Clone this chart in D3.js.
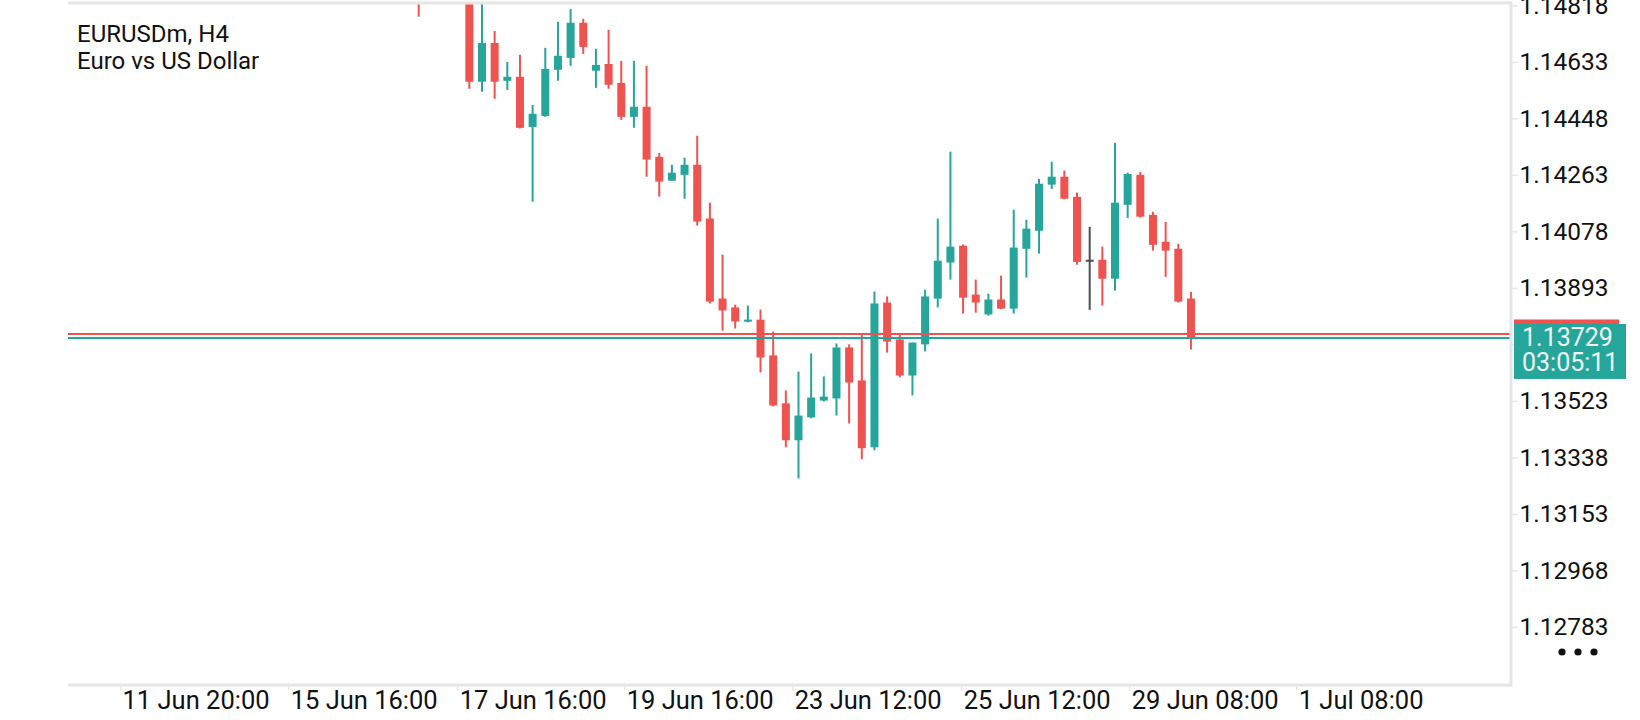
<!DOCTYPE html>
<html>
<head>
<meta charset="utf-8">
<script src="https://cdn.jsdelivr.net/npm/d3@7"></script>
<style>
  html, body { margin: 0; padding: 0; background: #fff; }
  svg { display: block; font-family: Roboto, "Noto Sans", sans-serif; }
</style>
</head>
<body>
<div id="chart"></div>
<script>
// EURUSDm H4 candles (oldest first)
const opens = [1.14920, 1.14860, 1.14930, 1.14895, 1.14990, 1.14568, 1.14695, 1.14571, 1.14584, 1.14420,
  1.14456, 1.14607, 1.14646, 1.14761, 1.14604, 1.14626, 1.14564, 1.14453, 1.14486, 1.14322,
  1.14244, 1.14263, 1.14296, 1.14120, 1.13858, 1.13829, 1.13783, 1.13789, 1.13672, 1.13515,
  1.13394, 1.13469, 1.13524, 1.13531, 1.13698, 1.13590, 1.13371, 1.13845, 1.13724, 1.13606,
  1.13708, 1.13858, 1.13976, 1.14031, 1.13871, 1.13806, 1.13855, 1.13825, 1.14021, 1.14080,
  1.14231, 1.14257, 1.14191, 1.13985, 1.13985, 1.13923, 1.14165, 1.14263, 1.14132, 1.14044,
  1.14021, 1.13858];
const highs = [1.14950, 1.14960, 1.14975, 1.15010, 1.15020, 1.14845, 1.14734, 1.14633, 1.14656, 1.14492,
  1.14679, 1.14764, 1.14806, 1.14774, 1.14676, 1.14738, 1.14636, 1.14636, 1.14620, 1.14335,
  1.14296, 1.14319, 1.14391, 1.14172, 1.14002, 1.13838, 1.13835, 1.13822, 1.13750, 1.13557,
  1.13619, 1.13678, 1.13603, 1.13711, 1.13708, 1.13740, 1.13881, 1.13865, 1.13740, 1.13714,
  1.13887, 1.14120, 1.14339, 1.14035, 1.13920, 1.13874, 1.13933, 1.14149, 1.14116, 1.14250,
  1.14306, 1.14277, 1.14205, 1.14093, 1.14028, 1.14368, 1.14270, 1.14273, 1.14142, 1.14109,
  1.14037, 1.13880];
const lows = [1.14781, 1.14852, 1.14870, 1.14880, 1.14545, 1.14535, 1.14512, 1.14541, 1.14415, 1.14175,
  1.14453, 1.14571, 1.14620, 1.14659, 1.14548, 1.14545, 1.14443, 1.14417, 1.14257, 1.14192,
  1.14243, 1.14185, 1.14097, 1.13842, 1.13753, 1.13760, 1.13780, 1.13616, 1.13505, 1.13371,
  1.13269, 1.13466, 1.13521, 1.13475, 1.13449, 1.13332, 1.13361, 1.13681, 1.13600, 1.13541,
  1.13685, 1.13829, 1.13920, 1.13809, 1.13812, 1.13802, 1.13823, 1.13809, 1.13927, 1.14005,
  1.14217, 1.14183, 1.13969, 1.13821, 1.13835, 1.13884, 1.14122, 1.14123, 1.14015, 1.13929,
  1.13845, 1.13691];
const closes = [1.14860, 1.14930, 1.14895, 1.14990, 1.14568, 1.14695, 1.14568, 1.14584, 1.14417, 1.14463,
  1.14610, 1.14653, 1.14761, 1.14682, 1.14623, 1.14558, 1.14453, 1.14486, 1.14313, 1.14241,
  1.14270, 1.14296, 1.14110, 1.13848, 1.13819, 1.13783, 1.13789, 1.13665, 1.13508, 1.13394,
  1.13475, 1.13534, 1.13537, 1.13698, 1.13583, 1.13368, 1.13842, 1.13717, 1.13606, 1.13714,
  1.13865, 1.13982, 1.14028, 1.13861, 1.13845, 1.13855, 1.13825, 1.14025, 1.14087, 1.14234,
  1.14257, 1.14185, 1.13978, 1.13985, 1.13923, 1.14172, 1.14266, 1.14126, 1.14034, 1.14015,
  1.13848, 1.13729];

const bidPrice = 1.13729;
const askPrice = 1.13742;
const barTimer = '03:05:11';

const priceTicks = [1.12783, 1.12968, 1.13153, 1.13338, 1.13523, 1.13708, 1.13893, 1.14078, 1.14263, 1.14448, 1.14633, 1.14818];
// time labels, placed in bar units (0 = first candle above)
const timeTickBars = [-23.55, -10.27, 3.08, 16.27, 29.54, 42.89, 56.16, 69.35];
const timeTickLabels = ['11 Jun 20:00', '15 Jun 16:00', '17 Jun 16:00', '19 Jun 16:00', '23 Jun 12:00', '25 Jun 12:00', '29 Jun 08:00', '1 Jul 08:00'];

const symbolTitle = 'EURUSDm, H4';
const symbolName = 'Euro vs US Dollar';

const W = 1640, H = 720;
const plot = { left: 68, right: 1510, top: 2, bottom: 684 };
const up = '#26a69a', down = '#ef5350', flat = '#4e4e58', frame = '#e6e6e6', ink = '#111111';

const candles = opens.map((o, i) => ({ i, o, h: highs[i], l: lows[i], c: closes[i] }));

const x = d3.scaleLinear().domain([-27.7, 86.2]).range([plot.left, plot.right]);
const y = d3.scaleLinear().domain([1.12596, 1.14829]).range([plot.bottom, plot.top]);
const colorOf = d => d.c > d.o ? up : (d.c < d.o ? down : flat);

const svg = d3.select('#chart').append('svg').attr('width', W).attr('height', H);

svg.append('defs').append('clipPath').attr('id', 'plotclip')
  .append('rect')
  .attr('x', plot.left).attr('y', plot.top)
  .attr('width', plot.right - plot.left).attr('height', plot.bottom - plot.top);

// candles
const cg = svg.append('g').attr('clip-path', 'url(#plotclip)');
cg.selectAll('rect.wick')
  .data(candles)
  .join('rect')
  .attr('class', 'wick')
  .attr('x', d => x(d.i) - 1)
  .attr('width', 2)
  .attr('y', d => y(d.h))
  .attr('height', d => Math.max(1, y(d.l) - y(d.h)))
  .attr('fill', colorOf);
cg.selectAll('rect.body')
  .data(candles)
  .join('rect')
  .attr('class', 'body')
  .attr('x', d => x(d.i) - 4)
  .attr('width', 8)
  .attr('y', d => y(Math.max(d.o, d.c)))
  .attr('height', d => Math.max(2, Math.abs(y(d.o) - y(d.c))))
  .attr('fill', colorOf);

// ask / bid lines
svg.append('line')
  .attr('x1', plot.left).attr('x2', plot.right)
  .attr('y1', y(askPrice)).attr('y2', y(askPrice))
  .attr('stroke', down).attr('stroke-width', 2);
svg.append('line')
  .attr('x1', plot.left).attr('x2', plot.right)
  .attr('y1', y(bidPrice)).attr('y2', y(bidPrice))
  .attr('stroke', up).attr('stroke-width', 2);

// frame
svg.append('line').attr('x1', plot.left).attr('x2', plot.right + 1.5)
  .attr('y1', plot.top + 1).attr('y2', plot.top + 1)
  .attr('stroke', frame).attr('stroke-width', 3);
svg.append('line').attr('x1', plot.left).attr('x2', plot.right + 1.5)
  .attr('y1', plot.bottom + 1).attr('y2', plot.bottom + 1)
  .attr('stroke', frame).attr('stroke-width', 3);
svg.append('line').attr('x1', plot.right + 1).attr('x2', plot.right + 1)
  .attr('y1', plot.top - 0.5).attr('y2', plot.bottom + 2.5)
  .attr('stroke', frame).attr('stroke-width', 3);

// price axis
const yAxis = d3.axisRight(y)
  .tickValues(priceTicks)
  .tickSize(5)
  .tickPadding(2)
  .tickFormat(d3.format('.5f'));
const ya = svg.append('g')
  .attr('transform', `translate(${plot.right + 2.5},0)`)
  .call(yAxis);
ya.select('.domain').remove();
ya.selectAll('line').attr('stroke', frame).attr('stroke-width', 1.5);
ya.selectAll('text')
  .attr('fill', ink)
  .style('font-size', '24.5px')
  .style('font-family', 'Roboto');

// time axis
const xa = svg.append('g').attr('transform', `translate(0,${plot.bottom + 2.5})`);
xa.selectAll('line')
  .data(timeTickBars)
  .join('line')
  .attr('x1', d => x(d)).attr('x2', d => x(d))
  .attr('y1', 0).attr('y2', 4)
  .attr('stroke', frame).attr('stroke-width', 1.5);
xa.selectAll('text')
  .data(timeTickBars)
  .join('text')
  .attr('x', d => x(d) + 2)
  .attr('y', 22.5)
  .attr('fill', ink)
  .style('font-size', '25.5px')
  .text((d, i) => timeTickLabels[i]);

// ask tag (mostly hidden) and bid tag with bar timer
svg.append('rect')
  .attr('x', plot.right + 4).attr('y', y(askPrice) - 14.5)
  .attr('width', 105).attr('height', 29)
  .attr('fill', down);
const bidTag = svg.append('g').attr('transform', `translate(${plot.right + 4},${y(bidPrice) - 14})`);
bidTag.append('rect')
  .attr('width', 112).attr('height', 55)
  .attr('fill', up);
bidTag.append('text')
  .attr('x', 8).attr('y', 22.5)
  .attr('fill', '#eef8f7')
  .style('font-size', '25px')
  .text(d3.format('.5f')(bidPrice));
bidTag.append('text')
  .attr('x', 8).attr('y', 47.5)
  .attr('fill', '#eef8f7')
  .style('font-size', '25px')
  .text(barTimer);

// symbol title
const tg = svg.append('g').attr('fill', ink).style('font-size', '24px');
tg.append('text').attr('x', 77).attr('y', 42).text(symbolTitle);
tg.append('text').attr('x', 77).attr('y', 69).text(symbolName);

// menu dots
svg.append('g').selectAll('circle')
  .data([0, 1, 2])
  .join('circle')
  .attr('cx', d => 1562 + d * 16)
  .attr('cy', 652)
  .attr('r', 3.6)
  .attr('fill', ink);
</script>
</body>
</html>
